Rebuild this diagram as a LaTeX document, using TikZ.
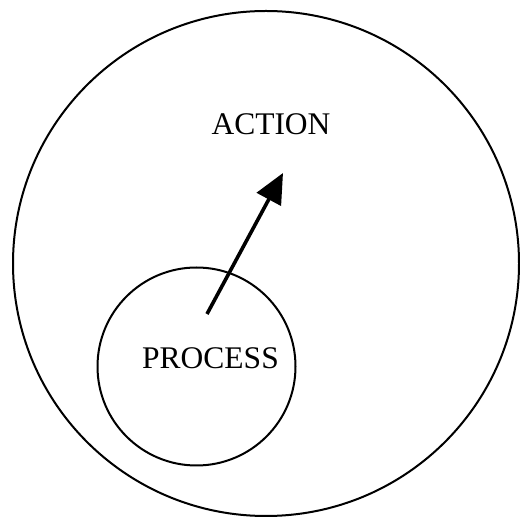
\documentclass[tikz,border=0pt]{standalone}
\usepackage{fontspec}
\setmainfont{Liberation Serif}
\usetikzlibrary{arrows.meta,shapes.geometric}
\begin{document}
\begin{tikzpicture}[x=1pt,y=-1pt,
  ring/.style={draw=black, line width=2pt, inner sep=0pt},
  word/.style={anchor=base, inner sep=0pt, font=\fontsize{31.5}{36}\selectfont},
  flow/.style={line width=3.6pt, -{Triangle[length=30pt,width=27pt]}}]
  \useasboundingbox (0,0) rectangle (520,518);
  % outer domain
  \node[ring, ellipse, minimum width=506pt, minimum height=505pt] (outer) at (266,263.5) {};
  \node[word] (action) at (271,135) {ACTION};
  % inner domain
  \node[ring, circle, minimum size=198pt] (inner) at (196.5,366.5) {};
  \node[word] (process) at (210.5,369) {PROCESS};
  % arrow from inner to outer
  \coordinate (from) at (207,314);
  \coordinate (to) at (283,173);
  \draw[flow] (from) -- (to);
\end{tikzpicture}
\end{document}
